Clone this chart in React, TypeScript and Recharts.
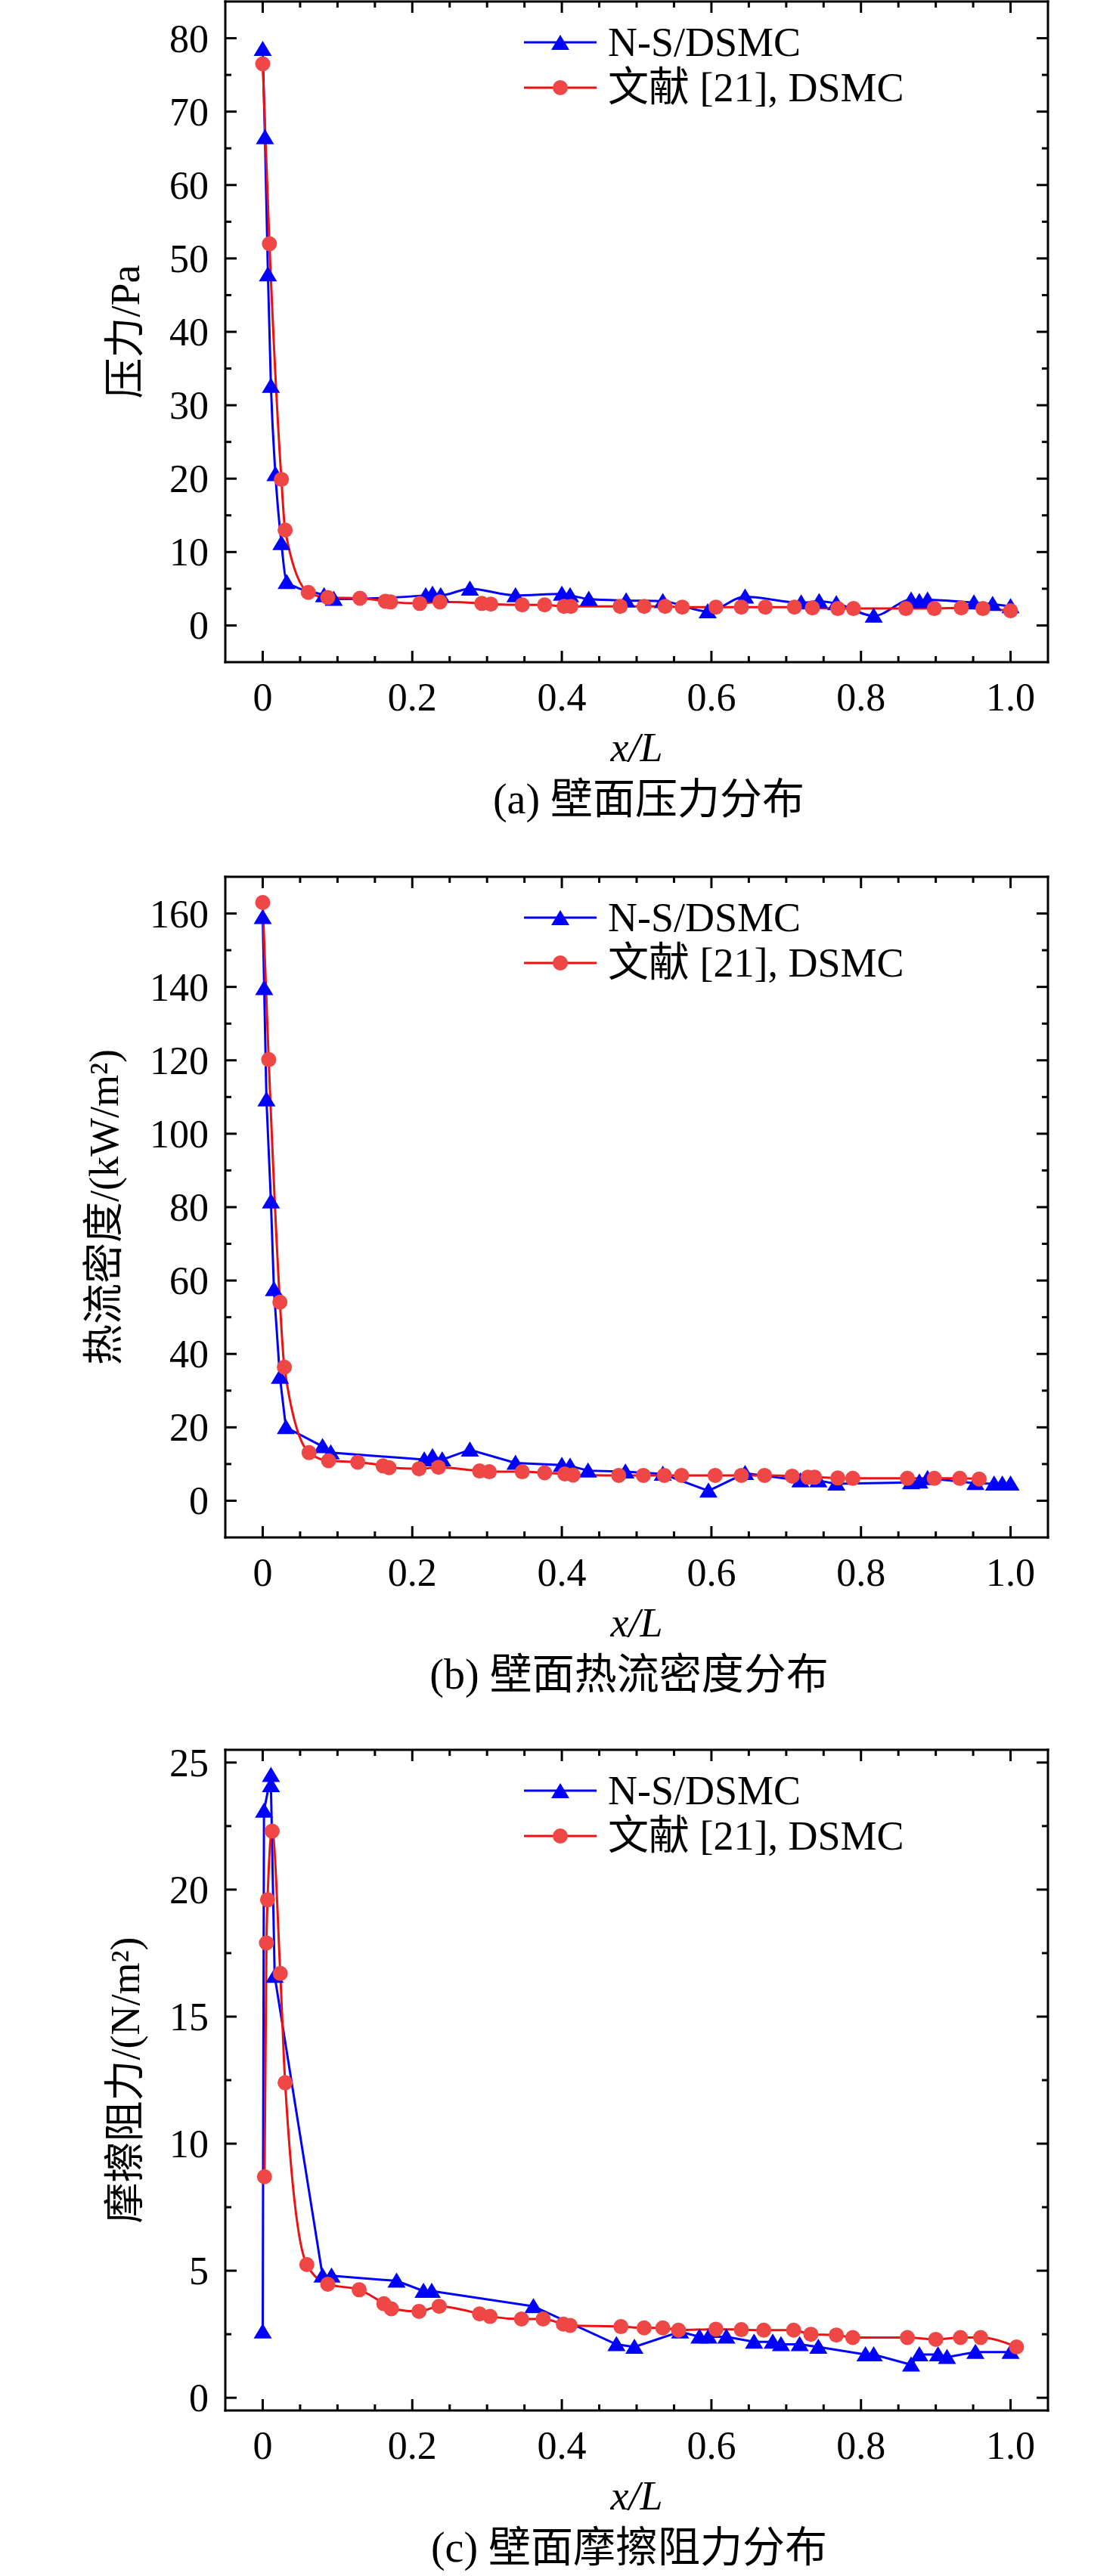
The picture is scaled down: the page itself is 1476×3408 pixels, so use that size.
import React from 'react';
import { LineChart, Line, XAxis, YAxis, Label } from 'recharts';

const FONT = "'Liberation Serif','Times New Roman','Noto Sans CJK SC',serif";
const BLUE = '#0000ff';
const RED_LINE = '#ee1111';
const RED_DOT = '#ef4646';

// shared x axis
const xDomain = [-0.05, 1.05];
const xTicks = [0, 0.05, 0.1, 0.15, 0.2, 0.25, 0.3, 0.35, 0.4, 0.45, 0.5, 0.55, 0.6, 0.65, 0.7, 0.75, 0.8, 0.85, 0.9, 0.95, 1.0];
const xMajorTicks = [0, 0.2, 0.4, 0.6, 0.8, 1.0];
const xTickLabels = ['0', '0.2', '0.4', '0.6', '0.8', '1.0'];
const legendNames = ['N-S/DSMC', '文献 [21], DSMC'];

// (a) pressure
const aYDomain = [-5, 85];
const aYTicks = [0, 5, 10, 15, 20, 25, 30, 35, 40, 45, 50, 55, 60, 65, 70, 75, 80];
const aYMajor = [0, 10, 20, 30, 40, 50, 60, 70, 80];
const aYLabels = ['0', '10', '20', '30', '40', '50', '60', '70', '80'];
const aBlueX = [0, 0.003, 0.007, 0.011, 0.017, 0.025, 0.032, 0.082, 0.095, 0.218, 0.227, 0.238, 0.277, 0.338, 0.4, 0.411, 0.436, 0.486, 0.535, 0.595, 0.645, 0.72, 0.744, 0.767, 0.817, 0.867, 0.878, 0.889, 0.951, 0.976, 1.0];
const aBlueY = [78.5, 66.5, 47.8, 32.6, 20.6, 11.2, 5.9, 4.1, 3.6, 4.1, 4.3, 4.1, 5.0, 4.1, 4.3, 4.1, 3.6, 3.4, 3.3, 1.9, 3.9, 3.1, 3.3, 3.0, 1.3, 3.5, 3.3, 3.5, 3.1, 2.9, 2.6];
const aRedX = [0, 0.009, 0.025, 0.03, 0.061, 0.087, 0.13, 0.164, 0.171, 0.21, 0.237, 0.293, 0.305, 0.347, 0.377, 0.403, 0.412, 0.478, 0.51, 0.538, 0.561, 0.606, 0.64, 0.672, 0.711, 0.735, 0.769, 0.79, 0.86, 0.898, 0.934, 0.963, 1.0];
const aRedY = [76.5, 52, 19.9, 13.0, 4.5, 3.8, 3.7, 3.3, 3.2, 3.0, 3.2, 3.0, 2.9, 2.8, 2.8, 2.6, 2.6, 2.6, 2.6, 2.6, 2.5, 2.5, 2.5, 2.5, 2.5, 2.4, 2.3, 2.3, 2.3, 2.3, 2.4, 2.3, 2.0];

// (b) heat flux
const bYDomain = [-10, 170];
const bYTicks = [0, 10, 20, 30, 40, 50, 60, 70, 80, 90, 100, 110, 120, 130, 140, 150, 160];
const bYMajor = [0, 20, 40, 60, 80, 100, 120, 140, 160];
const bYLabels = ['0', '20', '40', '60', '80', '100', '120', '140', '160'];
const bBlueX = [0, 0.002, 0.005, 0.011, 0.015, 0.023, 0.031, 0.08, 0.091, 0.216, 0.227, 0.24, 0.277, 0.338, 0.4, 0.411, 0.435, 0.485, 0.535, 0.596, 0.645, 0.719, 0.743, 0.767, 0.867, 0.878, 0.889, 0.953, 0.978, 0.989, 1.0];
const bBlueY = [159, 139.6, 109.3, 81.5, 57.6, 33.7, 20, 14.8, 13.1, 11.2, 12.1, 11.2, 13.9, 10.3, 9.7, 9.5, 8.2, 7.9, 7.3, 2.7, 7.5, 5.5, 5.5, 4.6, 5.0, 5.2, 6.1, 4.8, 4.6, 4.6, 4.6];
const bRedX = [0, 0.008, 0.023, 0.029, 0.062, 0.088, 0.127, 0.161, 0.169, 0.209, 0.235, 0.29, 0.303, 0.347, 0.377, 0.404, 0.415, 0.476, 0.509, 0.537, 0.56, 0.605, 0.64, 0.671, 0.708, 0.729, 0.738, 0.769, 0.789, 0.862, 0.898, 0.932, 0.958];
const bRedY = [163, 120.2, 54.1, 36.4, 13.1, 10.9, 10.5, 9.5, 9.0, 8.7, 9.1, 8.1, 7.9, 7.9, 7.6, 7.3, 7.0, 6.9, 6.9, 6.9, 6.9, 6.9, 6.9, 6.9, 6.7, 6.4, 6.4, 6.2, 6.1, 6.1, 6.1, 6.1, 5.9];

// (c) skin friction
const cYDomain = [-0.5, 25.5];
const cYTicks = [0, 2.5, 5, 7.5, 10, 12.5, 15, 17.5, 20, 22.5, 25];
const cYMajor = [0, 5, 10, 15, 20, 25];
const cYLabels = ['0', '5', '10', '15', '20', '25'];
const cBlueX = [0, 0.0017, 0.011, 0.011, 0.016, 0.08, 0.092, 0.179, 0.215, 0.226, 0.362, 0.473, 0.497, 0.558, 0.584, 0.596, 0.62, 0.657, 0.682, 0.693, 0.718, 0.743, 0.806, 0.817, 0.867, 0.878, 0.903, 0.915, 0.953, 1.0];
const cBlueY = [2.6, 23.1, 24.5, 24.1, 16.6, 4.8, 4.8, 4.6, 4.2, 4.2, 3.6, 2.1, 2.0, 2.6, 2.4, 2.4, 2.4, 2.2, 2.2, 2.1, 2.1, 2.0, 1.7, 1.7, 1.3, 1.7, 1.7, 1.6, 1.8, 1.8];
const cRedX = [0.0024, 0.005, 0.0065, 0.0126, 0.0235, 0.03, 0.059, 0.087, 0.129, 0.162, 0.172, 0.209, 0.236, 0.29, 0.304, 0.346, 0.375, 0.402, 0.411, 0.479, 0.51, 0.535, 0.556, 0.606, 0.64, 0.67, 0.71, 0.733, 0.767, 0.789, 0.862, 0.9, 0.933, 0.96, 1.008];
const cRedY = [8.7, 17.9, 19.6, 22.3, 16.7, 12.4, 5.24, 4.47, 4.25, 3.7, 3.5, 3.4, 3.6, 3.3, 3.2, 3.1, 3.1, 2.9, 2.85, 2.8, 2.75, 2.75, 2.66, 2.7, 2.68, 2.66, 2.66, 2.5, 2.47, 2.37, 2.37, 2.3, 2.37, 2.37, 2.0];

const zip = (xs: number[], ys: number[]) => xs.map((x, i) => ({ x, y: ys[i] }));

const W = 1476;
const PLOT_TOP = 2;
const PLOT_LEFT = 298;
const PLOT_RIGHT = 1386;
const PLOT_H = 874;
const BELOW = 240;
const H = PLOT_TOP + PLOT_H + BELOW;
const MAJOR_LEN = 15;
const MINOR_LEN = 8;
const TICK_FS = 52;
const LABEL_FS = 54;
const CAPTION_FS = 56;

const isIn = (arr: number[], v: number) => arr.findIndex((m) => Math.abs(m - v) < 1e-6);

const XTickBottom = (props: any) => {
  const { x, y, payload } = props;
  const i = isIn(xMajorTicks, payload.value);
  const len = i >= 0 ? MAJOR_LEN : MINOR_LEN;
  return (
    <g>
      <line x1={x} x2={x} y1={y} y2={y - len} stroke="#000" strokeWidth={3} />
      {i >= 0 && (
        <text x={x} y={y + 64} textAnchor="middle" fontFamily={FONT} fontSize={TICK_FS} fill="#000">
          {xTickLabels[i]}
        </text>
      )}
    </g>
  );
};

const XTickTop = (props: any) => {
  const { x, y, payload } = props;
  const len = isIn(xMajorTicks, payload.value) >= 0 ? MAJOR_LEN : MINOR_LEN;
  return <line x1={x} x2={x} y1={y} y2={y + len} stroke="#000" strokeWidth={3} />;
};

const makeYTickLeft = (majors: number[], labels: string[]) => (props: any) => {
  const { x, y, payload } = props;
  const i = isIn(majors, payload.value);
  const len = i >= 0 ? MAJOR_LEN : MINOR_LEN;
  return (
    <g>
      <line x1={x} x2={x + len} y1={y} y2={y} stroke="#000" strokeWidth={3} />
      {i >= 0 && (
        <text x={x - 22} y={y + 18} textAnchor="end" fontFamily={FONT} fontSize={TICK_FS} fill="#000">
          {labels[i]}
        </text>
      )}
    </g>
  );
};

const makeYTickRight = (majors: number[]) => (props: any) => {
  const { x, y, payload } = props;
  const len = isIn(majors, payload.value) >= 0 ? MAJOR_LEN : MINOR_LEN;
  return <line x1={x} x2={x - len} y1={y} y2={y} stroke="#000" strokeWidth={3} />;
};

const triPath = (cx: number, cy: number) => `M${cx},${cy - 11} L${cx + 12},${cy + 9} L${cx - 12},${cy + 9} Z`;

const triDot = (p: any) => {
  const { cx, cy, index } = p;
  if (cx == null || cy == null) return <g key={`t${index}`} />;
  return <path key={`t${index}`} d={triPath(cx, cy)} fill={BLUE} />;
};

const circDot = (p: any) => {
  const { cx, cy, index } = p;
  if (cx == null || cy == null) return <g key={`c${index}`} />;
  return <circle key={`c${index}`} cx={cx} cy={cy} r={10} fill={RED_DOT} />;
};

const axisLine = { stroke: '#000', strokeWidth: 3, strokeLinecap: 'square' as const };

type PanelProps = {
  top: number;
  yDomain: number[];
  yTicks: number[];
  yMajor: number[];
  yLabels: string[];
  yTitle: string;
  yTitleX: number;
  caption: string;
  captionX: number;
  blue: { x: number; y: number }[];
  red: { x: number; y: number }[];
  blueType: 'monotone' | 'linear';
};

const LegendOverlay = () => {
  const row = (i: number) => (
    <div key={i} style={{ display: 'flex', alignItems: 'center', height: 60 }}>
      <svg width={96} height={30} style={{ display: 'block' }}>
        <line x1={0} x2={96} y1={15} y2={15} stroke={i === 0 ? BLUE : RED_LINE} strokeWidth={3} />
        {i === 0 ? <path d={triPath(48, 16)} fill={BLUE} /> : <circle cx={48} cy={15} r={10} fill={RED_DOT} />}
      </svg>
      <span style={{ marginLeft: 15, whiteSpace: 'nowrap' }}>{legendNames[i]}</span>
    </div>
  );
  return (
    <div
      style={{
        position: 'absolute',
        left: 693,
        top: PLOT_TOP + 54 - 30,
        fontFamily: FONT,
        fontSize: LABEL_FS,
        lineHeight: '60px',
        color: '#000',
      }}
    >
      {row(0)}
      {row(1)}
    </div>
  );
};

const Panel = (p: PanelProps) => {
  const frameBottom = PLOT_TOP + PLOT_H;
  const yTitle = () => {
    const cy = PLOT_TOP + PLOT_H / 2;
    const cx = p.yTitleX;
    return (
      <g transform={`translate(${cx}, ${cy}) rotate(-90)`}>
        <text x={0} y={0} dy="0.36em" textAnchor="middle" fontFamily={FONT} fontSize={LABEL_FS} fill="#000">
          {p.yTitle}
        </text>
      </g>
    );
  };
  const xTitle = () => {
    const cx = (PLOT_LEFT + PLOT_RIGHT) / 2;
    return (
      <g>
        <text x={cx} y={frameBottom + 131} textAnchor="middle" fontFamily={FONT} fontSize={LABEL_FS} fontStyle="italic" fill="#000">
          x/L
        </text>
        <text x={p.captionX} y={frameBottom + 200} textAnchor="middle" fontFamily={FONT} fontSize={CAPTION_FS} fill="#000">
          {p.caption}
        </text>
      </g>
    );
  };
  return (
    <div style={{ position: 'absolute', left: 0, top: p.top, width: W, height: H }}>
      <LineChart
        width={W}
        height={H}
        margin={{ top: PLOT_TOP - 1, left: PLOT_LEFT - 1, right: W - PLOT_RIGHT - 1, bottom: BELOW - 1 }}
      >
        <XAxis
          xAxisId="bottom"
          dataKey="x"
          type="number"
          domain={xDomain}
          ticks={xTicks}
          interval={0}
          orientation="bottom"
          height={1}
          tickSize={0}
          tickMargin={0}
          tickLine={false}
          tick={XTickBottom}
          axisLine={axisLine}
          allowDataOverflow
        >
          <Label content={xTitle} />
        </XAxis>
        <XAxis
          xAxisId="top"
          dataKey="x"
          type="number"
          domain={xDomain}
          ticks={xTicks}
          interval={0}
          orientation="top"
          height={1}
          tickSize={0}
          tickMargin={0}
          tickLine={false}
          tick={XTickTop}
          axisLine={axisLine}
          allowDataOverflow
        />
        <YAxis
          yAxisId="left"
          type="number"
          domain={p.yDomain}
          ticks={p.yTicks}
          interval={0}
          orientation="left"
          width={1}
          tickSize={0}
          tickMargin={0}
          tickLine={false}
          tick={makeYTickLeft(p.yMajor, p.yLabels)}
          axisLine={axisLine}
          allowDataOverflow
        >
          <Label content={yTitle} />
        </YAxis>
        <YAxis
          yAxisId="right"
          type="number"
          domain={p.yDomain}
          ticks={p.yTicks}
          interval={0}
          orientation="right"
          width={1}
          tickSize={0}
          tickMargin={0}
          tickLine={false}
          tick={makeYTickRight(p.yMajor)}
          axisLine={axisLine}
          allowDataOverflow
        />
        <Line
          xAxisId="bottom"
          yAxisId="left"
          data={p.blue}
          dataKey="y"
          type={p.blueType}
          stroke={BLUE}
          strokeWidth={3}
          dot={triDot}
          activeDot={false}
          isAnimationActive={false}
          legendType="none"
        />
        <Line
          xAxisId="bottom"
          yAxisId="left"
          data={p.red}
          dataKey="y"
          type="monotone"
          stroke={RED_LINE}
          strokeWidth={3}
          dot={circDot}
          activeDot={false}
          isAnimationActive={false}
          legendType="none"
        />
      </LineChart>
      <LegendOverlay />
    </div>
  );
};

export default function App() {
  return (
    <div style={{ position: 'absolute', left: 0, top: 0, width: W, height: 3408, background: '#fff', overflow: 'hidden' }}>
      <Panel
        top={0}
        yDomain={aYDomain}
        yTicks={aYTicks}
        yMajor={aYMajor}
        yLabels={aYLabels}
        yTitle="压力/Pa"
        yTitleX={165}
        caption="(a) 壁面压力分布"
        captionX={858}
        blue={zip(aBlueX, aBlueY)}
        red={zip(aRedX, aRedY)}
        blueType="monotone"
      />
      <Panel
        top={1158}
        yDomain={bYDomain}
        yTicks={bYTicks}
        yMajor={bYMajor}
        yLabels={bYLabels}
        yTitle="热流密度/(kW/m²)"
        yTitleX={137}
        caption="(b) 壁面热流密度分布"
        captionX={832}
        blue={zip(bBlueX, bBlueY)}
        red={zip(bRedX, bRedY)}
        blueType="linear"
      />
      <Panel
        top={2313}
        yDomain={cYDomain}
        yTicks={cYTicks}
        yMajor={cYMajor}
        yLabels={cYLabels}
        yTitle="摩擦阻力/(N/m²)"
        yTitleX={165}
        caption="(c) 壁面摩擦阻力分布"
        captionX={832}
        blue={zip(cBlueX, cBlueY)}
        red={zip(cRedX, cRedY)}
        blueType="linear"
      />
    </div>
  );
}
